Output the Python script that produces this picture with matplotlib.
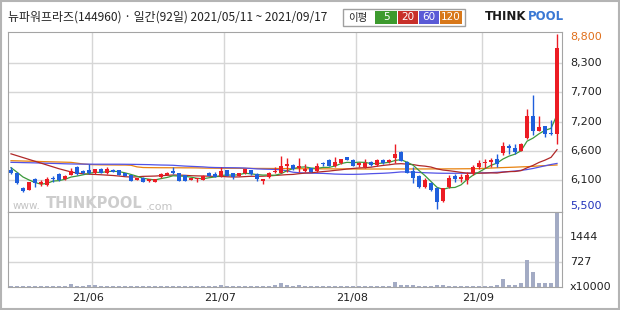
import numpy as np
import pandas as pd
import matplotlib
matplotlib.use('Agg')
import matplotlib.pyplot as plt
from matplotlib.patches import Rectangle
from matplotlib.transforms import offset_copy

plt.rcParams['font.family'] = ['Noto Sans CJK KR', 'DejaVu Sans']

title = '뉴파워프라즈(144960) · 일간(92일) 2021/05/11 ~ 2021/09/17'

# daily candles 2021/05/11 ~ 2021/09/17 (92 trading days)
opens = [6250, 6190, 5910, 5865, 6065, 5980, 5960, 6095, 6165, 6065,
         6145, 6305, 6220, 6240, 6180, 6255, 6190, 6240, 6240, 6180,
         6145, 6055, 6095, 6035, 6020, 6105, 6145, 6220, 6180, 6145,
         6055, 6065, 6055, 6190, 6165, 6135, 6240, 6180, 6130, 6180,
         6240, 6165, 6040, 6115, 6200, 6190, 6315, 6335, 6275, 6230,
         6270, 6230, 6380, 6430, 6320, 6365, 6480, 6430, 6335, 6290,
         6400, 6335, 6430, 6385, 6460, 6580, 6400, 6230, 6130, 5930,
         5990, 5895, 5665, 5915, 6130, 6080, 6055, 6180, 6290, 6365,
         6400, 6440, 6565, 6700, 6660, 6605, 6835, 7255, 6980, 7065,
         6940, 6910]
highs = [6290, 6205, 5930, 6020, 6085, 6055, 6115, 6130, 6190, 6145,
         6270, 6315, 6240, 6355, 6265, 6270, 6290, 6255, 6250, 6190,
         6155, 6095, 6110, 6075, 6075, 6180, 6200, 6290, 6190, 6155,
         6095, 6095, 6145, 6200, 6210, 6290, 6250, 6190, 6190, 6265,
         6250, 6190, 6075, 6210, 6305, 6505, 6460, 6345, 6460, 6350,
         6285, 6365, 6395, 6440, 6480, 6450, 6490, 6440, 6395, 6440,
         6410, 6440, 6440, 6440, 6730, 6590, 6410, 6300, 6150, 6085,
         6020, 5930, 5910, 6150, 6165, 6165, 6210, 6335, 6430, 6440,
         6460, 6540, 6775, 6730, 6730, 6740, 7380, 7650, 7255, 7070,
         7180, 8800]
lows = [6165, 5970, 5830, 5860, 5915, 5940, 5945, 6020, 6040, 6055,
        6140, 6150, 6160, 6165, 6170, 6180, 6160, 6200, 6140, 6125,
        6030, 6045, 6010, 6025, 6010, 6090, 6140, 6170, 6030, 6030,
        6045, 6020, 6045, 6125, 6105, 6115, 6125, 6070, 6120, 6170,
        6150, 6035, 5970, 6085, 6180, 6180, 6210, 6250, 6210, 6210,
        6200, 6210, 6315, 6310, 6305, 6355, 6420, 6310, 6305, 6285,
        6325, 6325, 6355, 6375, 6380, 6405, 6180, 5990, 5900, 5900,
        5855, 5500, 5650, 5900, 6020, 6020, 5980, 6150, 6255, 6270,
        6305, 6305, 6525, 6540, 6540, 6590, 6815, 6900, 6975, 6855,
        6900, 6730]
closes = [6180, 5990, 5850, 6010, 6005, 6020, 6065, 6065, 6055, 6130,
          6230, 6160, 6180, 6180, 6255, 6190, 6255, 6210, 6150, 6135,
          6040, 6085, 6020, 6065, 6065, 6165, 6190, 6180, 6040, 6040,
          6085, 6085, 6135, 6135, 6115, 6220, 6135, 6115, 6180, 6255,
          6160, 6070, 6065, 6190, 6220, 6315, 6350, 6260, 6315, 6260,
          6210, 6315, 6350, 6320, 6385, 6440, 6430, 6320, 6365, 6365,
          6335, 6430, 6365, 6430, 6540, 6415, 6190, 6085, 5930, 6055,
          5865, 5645, 5895, 6085, 6080, 6105, 6145, 6305, 6380, 6400,
          6415, 6355, 6690, 6650, 6585, 6730, 7255, 6980, 7055, 6915,
          6910, 8525]
# volume, x10000 shares
volumes = [35, 35, 30, 30, 35, 30, 30, 40, 30, 40,
           90, 35, 30, 50, 50, 30, 30, 25, 30, 25,
           25, 25, 25, 25, 25, 25, 25, 30, 25, 25,
           25, 25, 25, 25, 30, 50, 25, 25, 25, 25,
           25, 30, 30, 35, 60, 120, 70, 40, 50, 40,
           40, 35, 40, 35, 35, 40, 35, 30, 35, 30,
           35, 40, 30, 30, 150, 60, 50, 50, 40, 40,
           35, 70, 60, 40, 30, 35, 30, 35, 40, 40,
           40, 45, 230, 60, 60, 110, 780, 450, 110, 120,
           110, 2165]

# moving-average values before the window fills
ma5_head = [6285, 6200, 6110, 6055]
ma20_head = [6545, 6510, 6475, 6440, 6405, 6370, 6335, 6300, 6265, 6235,
             6205, 6185, 6170, 6162, 6158, 6152, 6145, 6138, 6128]
ma60 = [6385, 6383, 6380, 6378, 6375, 6372, 6368, 6365, 6362, 6358,
        6355, 6353, 6352, 6351, 6350, 6350, 6350, 6350, 6350, 6349,
        6348, 6346, 6344, 6342, 6338, 6335, 6333, 6330, 6322, 6315,
        6310, 6305, 6300, 6292, 6288, 6286, 6285, 6284, 6282, 6278,
        6270, 6262, 6258, 6255, 6252, 6245, 6225, 6200, 6190, 6185,
        6182, 6180, 6178, 6172, 6165, 6162, 6160, 6160, 6162, 6166,
        6172, 6176, 6180, 6186, 6195, 6205, 6205, 6200, 6195, 6190,
        6186, 6182, 6180, 6180, 6180, 6181, 6182, 6184, 6186, 6188,
        6192, 6198, 6205, 6212, 6222, 6235, 6250, 6270, 6295, 6320,
        6345, 6365]
ma120 = [6416, 6413, 6410, 6407, 6404, 6400, 6397, 6394, 6391, 6388,
         6385, 6370, 6355, 6345, 6340, 6338, 6337, 6336, 6335, 6335,
         6330, 6300, 6288, 6286, 6285, 6284, 6284, 6283, 6283, 6282,
         6282, 6281, 6278, 6276, 6275, 6274, 6274, 6273, 6273, 6272,
         6272, 6271, 6271, 6270, 6270, 6269, 6268, 6267, 6266, 6265,
         6264, 6264, 6263, 6263, 6262, 6262, 6261, 6261, 6260, 6260,
         6260, 6260, 6260, 6260, 6261, 6261, 6261, 6261, 6261, 6261,
         6262, 6262, 6262, 6263, 6263, 6264, 6265, 6266, 6268, 6272,
         6278, 6283, 6287, 6291, 6295, 6300, 6304, 6310, 6318, 6324,
         6330, 6336]

month_labels = ['21/06', '21/07', '21/08', '21/09']
month_start = [14, 36, 58, 79]  # first trading day of each month
price_levels = [8800, 8250, 7700, 7150, 6600, 6050, 5500]
price_labels = ['8,800', '8,300', '7,700', '7,200', '6,600', '6,100', '5,500']
vol_levels = [1444, 727]

df = pd.DataFrame({'open': opens, 'high': highs, 'low': lows,
                   'close': closes, 'volume': volumes})
df['ma5'] = df['close'].rolling(window=5).mean()
df.loc[:3, 'ma5'] = ma5_head
df['ma20'] = df['close'].rolling(window=20).mean()
df.loc[:18, 'ma20'] = ma20_head
df['ma60'] = ma60
df['ma120'] = ma120

UP = '#ec1c24'
DOWN = '#1f5fdc'
GRID = '#d6d6d6'
FRAME = '#a4a4a4'

fig = plt.figure(figsize=(6.2, 3.1), dpi=100)
ax = fig.add_axes([8 / 620, 1 - 212 / 310, 554 / 620, 180 / 310])
axv = fig.add_axes([8 / 620, 1 - 287 / 310, 554 / 620, 75 / 310], sharex=ax)

x = np.arange(len(df))
colors = np.where(df['close'] >= df['open'], UP, DOWN)
body_low = np.minimum(df['open'], df['close'])
body_h = np.maximum((df['close'] - df['open']).abs(), 20)

# Moving averages
ax.plot(x, df['ma120'], color='#e8820e', lw=0.9, zorder=2)
ax.plot(x, df['ma60'], color='#5252e6', lw=0.9, zorder=2)
ax.plot(x, df['ma20'], color='#b02828', lw=0.9, zorder=2)
ax.plot(x, df['ma5'], color='#3c9a3c', lw=0.9, zorder=2)

# Candles
ax.vlines(x, df['low'], df['high'], colors=colors, lw=1, zorder=3)
ax.bar(x, body_h, bottom=body_low, width=0.8, color=colors, lw=0, zorder=4)

ax.set_xlim(-0.5, 91.83)
ax.set_ylim(5453, 8832)
ax.set_yticks(price_levels[1:-1])
ax.set_xticks(np.array(month_start) - 0.5)
ax.grid(True, color=GRID, lw=1)
ax.set_axisbelow(True)
ax.tick_params(length=0, labelleft=False, labelbottom=False)
for s in ax.spines.values():
    s.set_color(FRAME)

label_colors = ['#e0701c'] + ['#222222'] * 5 + ['#2233bb']
label_shift = [-3.5, 0, 0, 0, 0, 0, 3]
for v, t, c, dy in zip(price_levels, price_labels, label_colors, label_shift):
    tr = offset_copy(ax.get_yaxis_transform(), fig=fig, x=8, y=dy, units='dots')
    ax.text(1.0, v, t, transform=tr, color=c, fontsize=8, va='center',
            ha='left', family=['DejaVu Sans'])

# Volume
axv.bar(x, df['volume'], width=0.65, color='#a3abc4', lw=0)
axv.set_ylim(0, 2178)
axv.set_yticks(vol_levels)
axv.grid(True, color=GRID, lw=1)
axv.set_axisbelow(True)
axv.tick_params(length=0, labelleft=False, labelbottom=False)
for s in axv.spines.values():
    s.set_color(FRAME)
for v in vol_levels:
    tr = offset_copy(axv.get_yaxis_transform(), fig=fig, x=8, y=0, units='dots')
    axv.text(1.0, v, str(v), transform=tr, fontsize=8, va='center', ha='left',
             color='#222222', family=['DejaVu Sans'])
tr = offset_copy(axv.get_yaxis_transform(), fig=fig, x=8, y=0, units='dots')
axv.text(1.0, 0, 'x10000', transform=tr, fontsize=8, va='center', ha='left',
         color='#222222', family=['DejaVu Sans'])

for m, lab in zip(month_start, month_labels):
    tr = offset_copy(axv.get_xaxis_transform(), fig=fig, x=-4, y=-11, units='dots')
    axv.text(m - 0.5, 0, lab, transform=tr, fontsize=8, ha='center', va='center',
             color='#222222', family=['DejaVu Sans'])

# Header, legend, logos drawn in pixel coordinates
ov = fig.add_axes([0, 0, 1, 1])
ov.set_xlim(0, 620)
ov.set_ylim(310, 0)
ov.axis('off')
ov.add_patch(Rectangle((1, 1), 617.5, 307.5, fill=False, ec='#b4b4b4', lw=1.5))

ov.text(8, 17, title, fontsize=8.6, va='center', ha='left', color='#222222')

ov.add_patch(Rectangle((343, 9), 122, 17, fc='white', ec='#a0a0a0', lw=1))
ov.text(358, 17.5, '이평', fontsize=7.5, va='center', ha='center', color='#222222')
legend_items = [('5', '#3d9a2e', 375, 22), ('20', '#c8302a', 398, 20),
                ('60', '#5a5ad6', 419, 20), ('120', '#d8781a', 440, 22)]
for lab, c, x0, w in legend_items:
    ov.add_patch(Rectangle((x0, 11), w, 13, fc=c, ec='none'))
    ov.text(x0 + w / 2, 17.5, lab, fontsize=7.5, va='center', ha='center',
            color='white', family=['DejaVu Sans'])

ov.text(485, 16, 'THINK', fontsize=8.5, fontweight='bold', va='center',
        ha='left', color='#1a1a1a', family=['DejaVu Sans'])
ov.text(528, 16, 'POOL', fontsize=8.5, fontweight='bold', va='center',
        ha='left', color='#3a78d4', family=['DejaVu Sans'])

# watermark
ov.text(13, 206, 'www.', fontsize=7.5, va='center', ha='left', color='#c4c4c4',
        family=['DejaVu Sans'])
ov.text(46, 204, 'THINKPOOL', fontsize=10.5, fontweight='bold', va='center',
        ha='left', color='#cdcdcd', family=['DejaVu Sans'])
ov.text(146, 207, '.com', fontsize=8, va='center', ha='left', color='#c4c4c4',
        family=['DejaVu Sans'])

fig.savefig('out.png', dpi=100)
